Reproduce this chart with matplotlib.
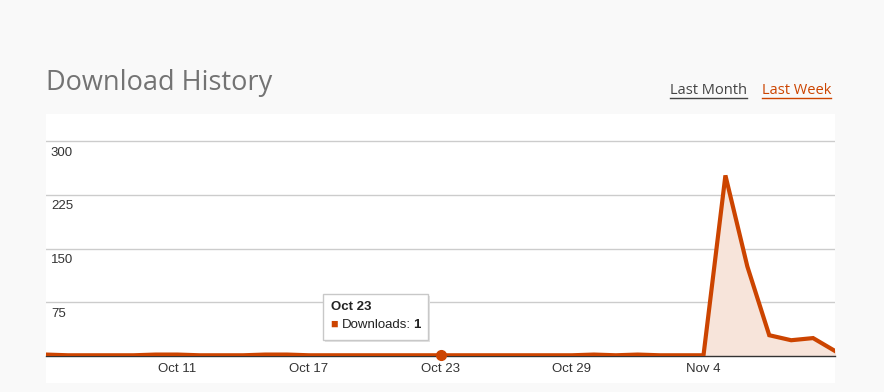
import datetime as dt
import matplotlib
matplotlib.use("Agg")
import matplotlib.pyplot as plt
from matplotlib.patches import Rectangle
from matplotlib.lines import Line2D

plt.rcParams['font.family'] = ['Liberation Sans', 'DejaVu Sans']

# data: daily downloads, Oct 5 .. Nov 10
start = dt.date(2013, 10, 5)
downloads = [2, 1, 1, 1, 1, 2, 2, 1, 1, 1, 2, 2, 1, 1, 1, 1, 1, 1, 1, 1, 1, 1,
             1, 1, 1, 2, 1, 2, 1, 1, 1, 252, 125, 29, 22, 25, 7]
dates = [start + dt.timedelta(days=i) for i in range(len(downloads))]
tick_dates = [dt.date(2013, 10, 11), dt.date(2013, 10, 17), dt.date(2013, 10, 23),
              dt.date(2013, 10, 29), dt.date(2013, 11, 4)]
tick_labels = ['Oct 11', 'Oct 17', 'Oct 23', 'Oct 29', 'Nov 4']
y_ticks = [75, 150, 225, 300]
hover_date = dt.date(2013, 10, 23)
hover_value = 1

W, H = 884, 392
ORANGE = '#cc4400'

fig = plt.figure(figsize=(W / 100, H / 100), dpi=100)
fig.patch.set_facecolor('#f9f9f9')

# white panel behind the chart
fig.add_artist(Rectangle((46 / W, (H - 383) / H), (835 - 46) / W, (383 - 114) / H,
                         transform=fig.transFigure, facecolor='white', edgecolor='none', zorder=0))

ax = fig.add_axes([46 / W, (H - 356) / H, (835 - 46) / W, (356 - 114) / H])
ax.set_facecolor('none')
for s in ['top', 'left', 'right']:
    ax.spines[s].set_visible(False)
ax.spines['bottom'].set_color('#333333')
ax.spines['bottom'].set_linewidth(1.0)

ax.set_xlim(dates[0], dates[-1])
ax.set_ylim(0, 337.7)

for v in y_ticks:
    ax.axhline(v, color='#cccccc', lw=1.0, zorder=1)
    ax.annotate(str(v), xy=(0, v), xycoords=('axes fraction', 'data'),
                xytext=(3.5, -4), textcoords='offset points', ha='left', va='top',
                fontsize=9.5, color='#333333')
ax.set_yticks([])

ax.fill_between(dates, downloads, 0, color='#f7e4da', zorder=2)
ax.plot(dates, downloads, color=ORANGE, lw=3, solid_joinstyle='miter', zorder=3)
ax.plot([hover_date], [hover_value], 'o', color=ORANGE, ms=7, zorder=4, clip_on=False)

ax.set_xticks(tick_dates)
ax.set_xticklabels(tick_labels, fontsize=9.5, color='#333333')
ax.tick_params(axis='x', length=0, pad=5)

# tooltip
tx0, ty0, tx1, ty1 = 323, 294, 428, 340
fig.add_artist(Rectangle(((tx0 + 2) / W, (H - ty1 - 2) / H), (tx1 - tx0) / W, (ty1 - ty0) / H,
                         transform=fig.transFigure, facecolor='#e4e4e4', edgecolor='none', zorder=5))
fig.add_artist(Rectangle((tx0 / W, (H - ty1) / H), (tx1 - tx0) / W, (ty1 - ty0) / H,
                         transform=fig.transFigure, facecolor='white', edgecolor='#c8c8c8',
                         lw=1, zorder=6))
fig.text(331 / W, (H - 307) / H, 'Oct 23', fontsize=9.5, fontweight='bold', color='#222222',
         va='center', ha='left', zorder=7)
fig.text(330 / W, (H - 325) / H, '■', fontsize=9, color=ORANGE, va='center', ha='left', zorder=7)
fig.text(342 / W, (H - 325) / H, 'Downloads:', fontsize=9.5, color='#222222',
         va='center', ha='left', zorder=7)
fig.text(413 / W, (H - 325) / H, str(hover_value), fontsize=9.5, fontweight='bold', color='#222222',
         va='center', ha='left', zorder=7)

# title and range links
fig.text(46 / W, (H - 83) / H, 'Download History', fontsize=19.5, color='#737373',
         family=['Open Sans', 'DejaVu Sans'], va='center', ha='left')

renderer = fig.canvas.get_renderer()
for label, x, col in [('Last Month', 670, '#444444'), ('Last Week', 762, ORANGE)]:
    t = fig.text(x / W, (H - 90) / H, label, fontsize=10.5, color=col,
                 family=['Open Sans', 'DejaVu Sans'], va='center', ha='left')
    bb = t.get_window_extent(renderer)
    fig.add_artist(Line2D([bb.x0 / W, bb.x1 / W], [(H - 98) / H] * 2,
                          transform=fig.transFigure, color=col, lw=1))

fig.savefig('out.png', dpi=100, facecolor=fig.get_facecolor())
